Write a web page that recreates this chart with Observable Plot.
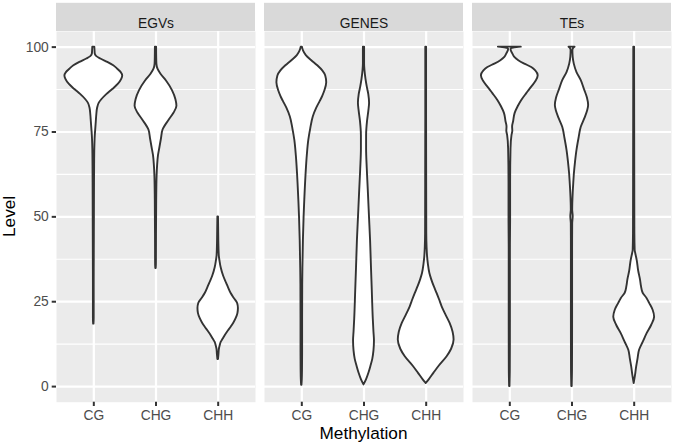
<!DOCTYPE html>
<html>
<head>
<meta charset="utf-8">
<script src="https://cdn.jsdelivr.net/npm/d3@7"></script>
<script src="https://cdn.jsdelivr.net/npm/@observablehq/plot@0.6"></script>
<style>
  html, body { margin: 0; padding: 0; background: #ffffff; }
  #chart svg { display: block; }
</style>
</head>
<body>
<div id="chart"></div>
<script>
// ---- Data ----
const panels = ["EGVs", "GENES", "TEs"];
const methylation = ["CG", "CHG", "CHH"];
const yTicks = [0, 25, 50, 75, 100];
const yMinor = [12.5, 37.5, 62.5, 87.5];

// violin profiles: [level, relative density]
const egvsCG = [[18.4,0.2],[20,0.4],[30,0.4],[40,0.5],[50,0.6],[60,0.7],[65,0.8],[70,1.0],[74,1.5],[76,2.0],[78,2.5],[80,3.0],[82,3.8],[83.5,5.5],[84.5,8],[86,13],[87.5,19],[89,24.5],[90.5,28],[91.5,29],[92.5,27.5],[93.5,24],[94.5,20],[95.5,14],[96.5,7],[97.2,3],[98,1.4],[99,1.2],[100,1.0]];
const egvsCHG = [[34.8,0.2],[36,0.4],[45,0.5],[55,0.7],[62,1.1],[65,1.6],[68,2.5],[70.5,4],[73,5.5],[75.5,7],[78.4,13],[80.5,18],[82.6,21],[84.5,20],[87.2,16.5],[90,10.5],[92,5],[93.5,2],[95,0.9],[97,0.7],[100,0.6]];
const egvsCHH = [[8,0.3],[9.5,0.8],[11,1.2],[12,2],[13,3],[14,5],[15,7],[16.1,9.5],[17.5,13],[18.6,15.5],[20,18],[21.5,19.8],[23,20.3],[24.5,19.5],[26,16],[27.4,13],[29,10.5],[30.4,8.5],[32.5,5.5],[35,3],[37,1.8],[38.5,1.1],[42,0.7],[46,0.5],[50,0.3]];
const genesCG = [[0.4,0.2],[2,0.5],[5,0.7],[10,0.8],[20,0.8],[30,0.9],[35,1.1],[43,1.6],[50,2.3],[55,3],[62.7,4.3],[68,5.5],[72.5,7],[76,9],[79.4,11.5],[82,15],[84,18.5],[85.5,21],[87,23],[89.5,25],[91.5,24],[93,21],[94.5,16],[96,10],[97.5,4.5],[98.8,1.8],[100,0.6]];
const genesCHG = [[0.5,0],[2,2.5],[4,5],[6,7],[8,8.8],[10.5,10],[13.5,10.5],[16,10],[20,9.3],[28.4,8.3],[35,7.5],[43,6.6],[50,5.5],[57.8,4.3],[64,3.3],[70,2.6],[74,2.6],[78,3.5],[81,4.8],[83.5,5.6],[86,4.8],[88.2,3.3],[90.5,2],[93,1.0],[95,0.6],[100,0.6]];
const genesCHH = [[0.9,0],[2,3],[3.9,7.7],[6,13],[8.8,21],[11,25.5],[13.7,28],[16,27],[18.6,24],[21,20],[23.5,16],[25.5,13.5],[27.4,11],[29.5,8],[31.5,5.5],[33.3,3.7],[36,2.2],[38.2,1.4],[41,0.9],[45,0.6],[60,0.5],[80,0.4],[100,0.4]];
const tesCG = [[0,0.2],[5,0.5],[20,0.6],[40,0.6],[50,0.8],[60,0.8],[70,1.2],[74,2.2],[75.2,3],[76.5,2.8],[78,3.8],[80.4,5.3],[82.5,8.5],[84.3,12],[86.3,17],[88.2,22],[90,26.5],[91.6,28.5],[93,26],[94,22],[95,15],[96,9],[97,5],[98,3],[99.3,1.2],[99.8,5],[100,11.5]];
const tesCHG = [[0,0.2],[5,0.5],[20,0.6],[40,0.6],[48,0.7],[50,1.2],[52,0.7],[56.9,1.2],[60,1.8],[62.7,2.4],[66,3.5],[69.6,5],[73,7],[76.4,9.3],[79,13],[81,15.5],[82.8,16.7],[85,15.5],[87.5,12.5],[90.1,9.3],[92.5,5],[95,2.3],[97,1.2],[99,0.9],[99.7,1.8],[100,3]];
const tesCHH = [[0.9,0],[3,1.2],[5.8,2.5],[8,3.8],[10.7,5.4],[13,9],[15.6,13],[18,17.5],[20.4,20.5],[22.5,19],[24.5,15.5],[25.9,13],[27.5,9],[29.5,7.3],[31.3,6.4],[34,4.5],[37.2,3],[39,1.7],[40.1,1.0],[45,0.7],[60,0.6],[80,0.5],[100,0.4]];

const profiles = {
  EGVs: [egvsCG, egvsCHG, egvsCHH],
  GENES: [genesCG, genesCHG, genesCHH],
  TEs: [tesCG, tesCHG, tesCHH]
};

// density -> x-units conversion (violin width scaling)
const DENS_TO_X = 1 / 62.4;

const rows = panels.flatMap(panel =>
  profiles[panel].flatMap((prof, i) =>
    prof.map(([level, dens]) => ({
      panel, cat: methylation[i], ci: i + 1, level,
      w: dens * DENS_TO_X, key: panel + "-" + methylation[i]
    }))
  )
);

const font = "'Liberation Sans', Arial, Helvetica, sans-serif";
const yDomain = [-4.6, 104.6];
const xDomain = [0.4, 3.6];

const chart = Plot.plot({
  width: 675,
  height: 446,
  marginLeft: 55,
  marginRight: 3,
  marginTop: 31,
  marginBottom: 44.3,
  style: { fontFamily: font, background: "#ffffff", overflow: "visible" },
  fx: { domain: panels, paddingInner: 0.042, paddingOuter: 0, axis: null, label: null },
  x: { domain: xDomain, axis: null },
  y: { domain: yDomain, axis: null },
  marks: [
    Plot.frame({ fill: "#ebebeb", stroke: null }),
    Plot.ruleY(yMinor, { stroke: "#ffffff", strokeWidth: 1.1 }),
    Plot.ruleY(yTicks, { stroke: "#ffffff", strokeWidth: 2.2 }),
    Plot.ruleX([1, 2, 3], { stroke: "#ffffff", strokeWidth: 2.2 }),
    // strip backgrounds & labels
    Plot.rect(panels, { fx: d => d, x1: xDomain[0], x2: xDomain[1], y1: yDomain[1], y2: 112.9, fill: "#d9d9d9" }),
    Plot.text(panels, { fx: d => d, text: d => d, frameAnchor: "top", dy: -13.7, fontSize: 13.8, fill: "#1a1a1a" }),
    // violins
    Plot.areaX(rows, {
      fx: "panel", y: "level",
      x1: d => d.ci - d.w, x2: d => d.ci + d.w,
      z: "key", fill: "#ffffff", stroke: "#333333", strokeWidth: 1.9,
      strokeLinejoin: "round", curve: "monotone-y"
    }),
    Plot.axisY({ ticks: yTicks, tickSize: 4.3, tickPadding: 3.4, stroke: "#333333", strokeWidth: 2, fill: "#4d4d4d", fontSize: 13.8, label: null }),
    Plot.axisX({ ticks: [1, 2, 3], tickFormat: d => methylation[d - 1], tickSize: 4.3, tickPadding: 3.4, stroke: "#333333", strokeWidth: 2, fill: "#4d4d4d", fontSize: 13.8, label: null })
  ]
});

document.getElementById("chart").appendChild(chart);

const svg = d3.select(chart);
svg.append("text")
  .attr("x", 363.5).attr("y", 439.3)
  .attr("text-anchor", "middle")
  .attr("font-size", 17.2)
  .attr("font-family", font)
  .attr("fill", "#000000")
  .text("Methylation");
svg.append("text")
  .attr("transform", "translate(15,216.4) rotate(-90)")
  .attr("text-anchor", "middle")
  .attr("font-size", 17.2)
  .attr("font-family", font)
  .attr("fill", "#000000")
  .text("Level");
</script>
</body>
</html>
